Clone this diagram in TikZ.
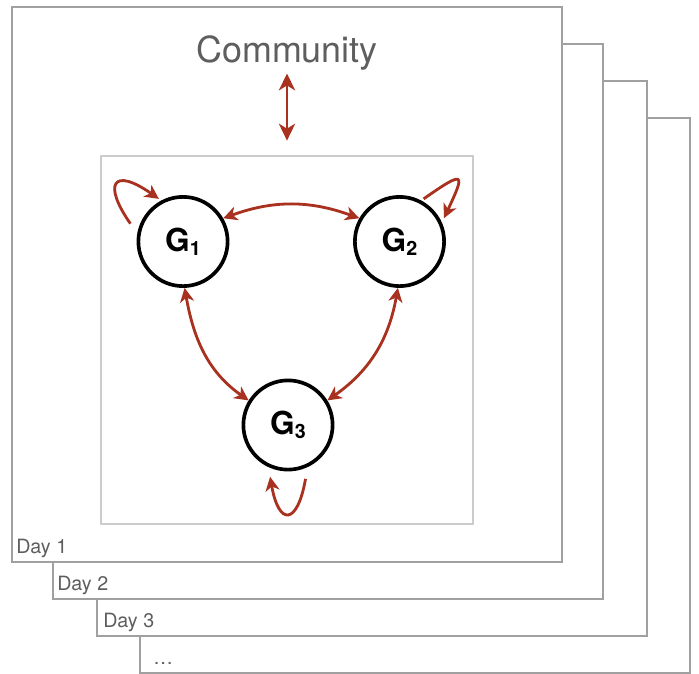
\documentclass[tikz,border=0pt]{standalone}
\usepackage{fontspec}
\setmainfont{TeX Gyre Heros}
\usetikzlibrary{arrows.meta}
\definecolor{mRed}{HTML}{A8321F}
\definecolor{mFrame}{HTML}{A0A0A0}
\definecolor{mBox}{HTML}{CCCCCC}
\definecolor{mText}{HTML}{5E5E5E}
\newcommand{\gname}[1]{\textbf{G}\raisebox{-3pt}{\fontsize{14}{14}\selectfont\textbf{#1}}}
\tikzset{
  >={Stealth[length=10pt,width=10pt,inset=3pt]},
  dayframe/.style={draw=mFrame,line width=1.2pt,fill=white},
  daylbl/.style={anchor=base west,text=mText,inner sep=0pt,font=\fontsize{14}{14}\selectfont},
  gnode/.style={circle,draw=black,line width=2.6pt,fill=white,minimum size=2.23cm,inner sep=0pt,font=\fontsize{22.5}{23}\selectfont},
  rel/.style={<->,line width=2pt,mRed},
  selfrel/.style={->,line width=2pt,mRed},
}

\begin{document}
\begin{tikzpicture}[x=0.025cm,y=-0.025cm]
  \clip (0,0) rectangle (699,673);
  % stacked days, back to front
  \foreach \x/\y/\dx/\lbl in {140/118/13/{\ldots},97/81/6/Day 3,53/44/4/Day 2,12/7/4/Day 1}{
    \draw[dayframe] (\x,\y) rectangle ++(550,555);
    \node[daylbl] at ({\x+\dx},{\y+546}) {\lbl};
  }

  \node[text=mText,inner sep=0pt,anchor=base,font=\fontsize{25.5}{26}\selectfont] (comm) at (287,62) {Community};
  \node[draw=mBox,line width=0.8pt,fill=white,minimum width=9.3cm,minimum height=9.2cm,inner sep=0pt] (inner) at (287,340) {};

  \node[gnode] (g1) at (183,241.5) {\gname{1}};
  \node[gnode] (g2) at (399.5,241.5) {\gname{2}};
  \node[gnode] (g3) at (288,425) {\gname{3}};

  \draw[rel,>={Stealth[length=12pt,width=11.5pt,inset=3.5pt]},shorten <=2.4pt,shorten >=10.5pt] (comm.south) -- (inner.north);

  \draw[rel] (g1.30) to[out=20,in=160] (g2.150);
  \draw[rel] (g1.-88) to[out=-80,in=145] (g3.148);
  \draw[rel] (g2.-92) to[out=-100,in=35] (g3.32);

  % self loops
  \draw[selfrel,shorten <=8.5pt,shorten >=2pt] (g1.170) to[out=125,in=145,looseness=3.75] (g1.118);
  \draw[selfrel,shorten <=2pt,shorten >=3.5pt] (g2.62) to[out=35,in=65,looseness=4.6] (g2.24);
  \draw[selfrel,shorten <=8.5pt,shorten >=7pt] (g3.-65) to[out=-100,in=-80,looseness=3.9] (g3.-115);
\end{tikzpicture}
\end{document}
